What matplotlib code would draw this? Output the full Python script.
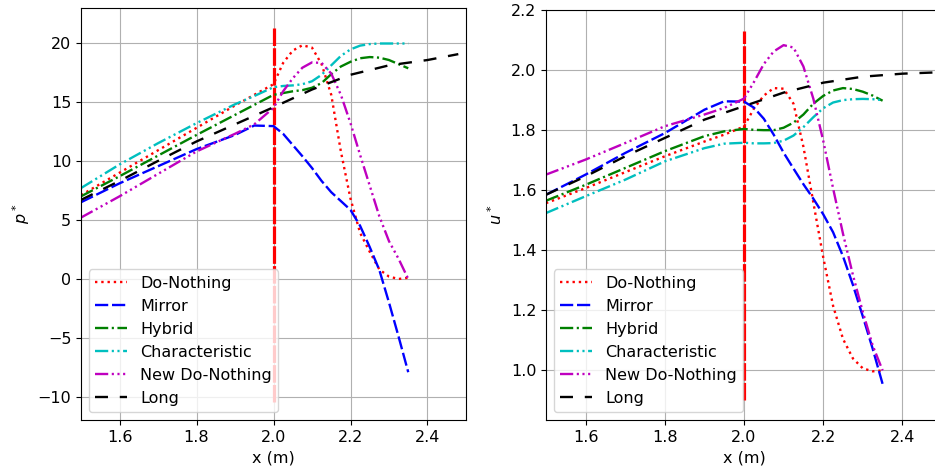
import matplotlib
matplotlib.use('Agg')
from matplotlib import pyplot as plt

# общие точки по x для пяти граничных условий
x_bc = [1.5, 1.6, 1.7, 1.8, 1.9, 1.95, 2.0, 2.025, 2.05, 2.075, 2.1, 2.125,
        2.15, 2.175, 2.2, 2.225, 2.25, 2.275, 2.3, 2.325, 2.35]
# длинная область
x_long = [1.5, 1.6, 1.7, 1.8, 1.9, 2.0, 2.1, 2.2, 2.3, 2.4, 2.48]

labels = ['Do-Nothing', 'Mirror', 'Hybrid', 'Characteristic', 'New Do-Nothing']

# давление p*
p_do_nothing = [7.1, 9.0, 10.9, 12.8, 14.7, 15.6, 16.5, 18.3, 19.35, 19.8, 19.6, 18.2,
                15.6, 10.8, 6.8, 3.9, 2.3, 0.8, 0.2, 0.0, 0.1]
p_mirror = [6.5, 8.1, 9.55, 11.0, 12.2, 13.0, 12.95, 12.3, 11.35, 10.4, 9.4, 8.3,
            7.35, 6.6, 5.85, 4.5, 2.7, 0.75, -2.0, -4.9, -7.9]
p_hybrid = [7.0, 8.7, 10.45, 12.2, 13.9, 14.75, 15.6, 15.75, 15.9, 16.0, 16.2, 16.6,
            17.35, 18.0, 18.4, 18.7, 18.8, 18.75, 18.55, 18.2, 17.85]
p_characteristic = [7.7, 9.7, 11.5, 13.2, 14.8, 15.5, 16.25, 16.35, 16.4, 16.5, 16.75, 17.3,
                    18.1, 18.9, 19.45, 19.77, 19.9, 19.95, 19.95, 19.95, 19.95]
p_new_do_nothing = [5.2, 7.0, 8.9, 10.8, 12.3, 13.1, 14.5, 15.9, 17.0, 17.9, 18.35, 18.3,
                    17.4, 15.6, 13.2, 10.5, 7.9, 5.3, 3.2, 1.7, 0.0]
p_long = [6.7, 8.3, 10.0, 11.65, 13.1, 14.55, 16.05, 17.3, 18.1, 18.55, 19.05]

# скорость u*
u_do_nothing = [1.557, 1.607, 1.66, 1.713, 1.762, 1.785, 1.812, 1.872, 1.915, 1.94, 1.938, 1.888,
                1.745, 1.56, 1.377, 1.215, 1.105, 1.04, 1.007, 0.997, 1.0]
u_mirror = [1.585, 1.652, 1.724, 1.79, 1.868, 1.896, 1.895, 1.875, 1.838, 1.785, 1.725, 1.672,
            1.62, 1.572, 1.52, 1.46, 1.38, 1.285, 1.18, 1.072, 0.955]
u_hybrid = [1.565, 1.618, 1.674, 1.73, 1.78, 1.796, 1.804, 1.801, 1.8, 1.8, 1.808, 1.825,
            1.852, 1.888, 1.914, 1.932, 1.94, 1.937, 1.928, 1.915, 1.898]
u_characteristic = [1.524, 1.58, 1.635, 1.696, 1.74, 1.755, 1.758, 1.756, 1.756, 1.757, 1.765, 1.782,
                    1.81, 1.843, 1.873, 1.892, 1.9, 1.903, 1.904, 1.903, 1.9]
u_new_do_nothing = [1.652, 1.702, 1.757, 1.813, 1.852, 1.874, 1.905, 1.96, 2.02, 2.062, 2.083, 2.075,
                    2.012, 1.905, 1.765, 1.606, 1.455, 1.318, 1.195, 1.083, 1.0]
u_long = [1.585, 1.646, 1.713, 1.774, 1.835, 1.88, 1.925, 1.958, 1.978, 1.988, 1.992]

# граница короткой области
x_boundary = 2.0
p_boundary = [-10.4, 21.3]
u_boundary = [0.9, 2.13]

FS = 11.5
LW = 1.7
styles = [dict(color='r', linestyle=':'),
          dict(color='b', dashes=(5.6, 1.6)),
          dict(color='g', dashes=(5.6, 1.5, 0.9, 1.5)),
          dict(color='c', dashes=(5.6, 1.5, 0.9, 1.5, 0.9, 1.5)),
          dict(color='m', dashes=(5.6, 1.5, 0.9, 1.5, 0.9, 1.5, 0.9, 1.5))]


def make_panel(ax, series, long_vals, boundary, ylabel, ylim):
    """ рисует одну панель """
    ax.plot([x_boundary, x_boundary], boundary, color='r', lw=2.3, dashes=(5.5, 0.7))
    for vals, lab, st in zip(series, labels, styles):
        ax.plot(x_bc, vals, lw=LW, label=lab, **st)
    ax.plot(x_long, long_vals, color='k', lw=LW, dashes=(5.5, 5), label='Long')
    ax.set_xlim(1.5, 2.5)
    ax.set_ylim(*ylim)
    ax.set_xticks([1.6, 1.8, 2.0, 2.2, 2.4])
    ax.grid(True, color='#b0b0b0', lw=0.8)
    ax.set_xlabel('x (m)', fontsize=FS)
    ax.set_ylabel(ylabel, fontsize=FS)
    ax.tick_params(labelsize=FS)
    ax.legend(loc='lower left', fontsize=FS)


fig = plt.figure(figsize=(9.35, 4.71), dpi=100)
ax1 = fig.add_axes([81 / 935, 51 / 471, 385 / 935, 412.5 / 471])
ax2 = fig.add_axes([546 / 935, 51 / 471, 396 / 935, 410 / 471])

make_panel(ax1, [p_do_nothing, p_mirror, p_hybrid, p_characteristic, p_new_do_nothing],
           p_long, p_boundary, r'$p^*$', (-11.95, 23.0))
make_panel(ax2, [u_do_nothing, u_mirror, u_hybrid, u_characteristic, u_new_do_nothing],
           u_long, u_boundary, r'$u^*$', (0.835, 2.2))
ax1.set_yticks([-10, -5, 0, 5, 10, 15, 20])
ax2.set_yticks([1.0, 1.2, 1.4, 1.6, 1.8, 2.0, 2.2])

fig.savefig('out.png')
